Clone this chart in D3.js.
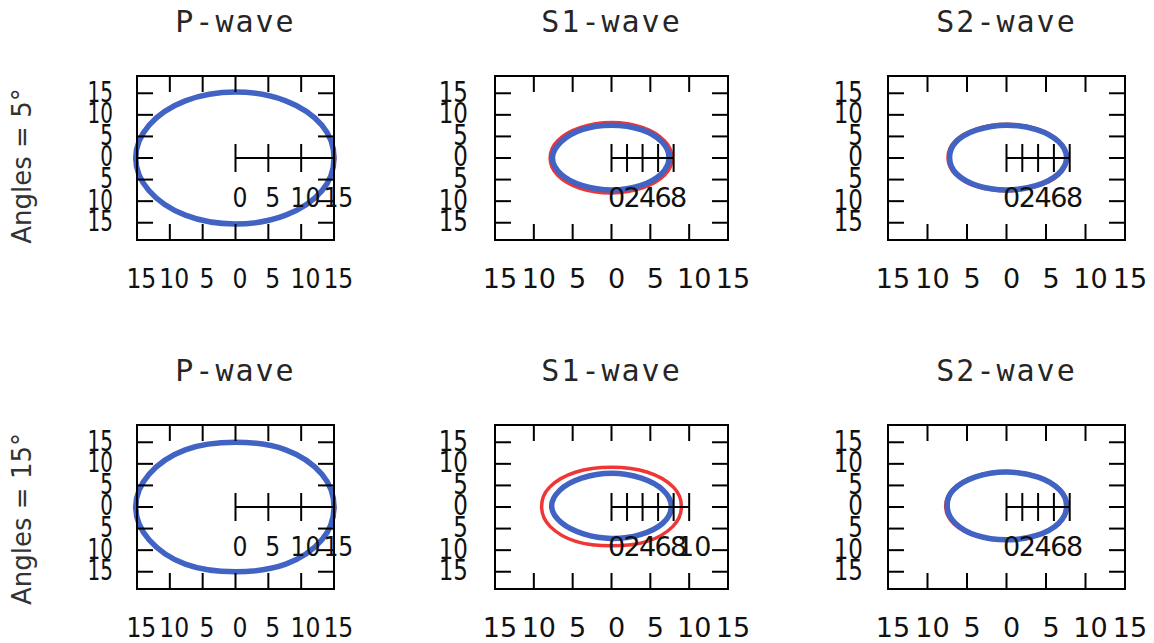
<!DOCTYPE html>
<html>
<head>
<meta charset="utf-8">
<script src="https://d3js.org/d3.v7.min.js"></script>
<style>
  body { margin: 0; background: #fff; }
  svg { display: block; }
</style>
</head>
<body>
<div id="chart"></div>
<script>
var width = 1154;
var height = 643;

// panel titles and row labels
var waves = ['P-wave', 'S1-wave', 'S2-wave'];
var rowLabels = ['Angles = 5°', 'Angles = 15°'];

// box axis ticks (labels show absolute values)
var axisTicks = [-15, -10, -5, 0, 5, 10, 15];

// sample angles (degrees) for the velocity curves
var theta = [0, 30, 60, 90, 120, 150, 180, 210, 240, 270, 300, 330];

// radii, red = first curve, blue = second curve
var red5P   = [15.1, 15.2, 15.3, 15.3, 15.3, 15.2, 15.1, 15.2, 15.3, 15.3, 15.3, 15.2];
var blue5P  = [15.0, 15.2, 15.3, 15.3, 15.3, 15.2, 15.2, 15.2, 15.3, 15.3, 15.3, 15.2];
var red5S1  = [7.8, 7.9, 8.1, 8.2, 8.1, 8.0, 7.9, 8.0, 8.1, 8.1, 8.0, 7.9];
var blue5S1 = [7.4, 7.5, 7.6, 7.6, 7.6, 7.5, 7.6, 7.5, 7.4, 7.4, 7.4, 7.4];
var red5S2  = [7.7, 7.7, 7.8, 7.8, 7.7, 7.6, 7.4, 7.5, 7.6, 7.6, 7.6, 7.7];
var blue5S2 = [7.6, 7.6, 7.6, 7.6, 7.5, 7.4, 7.2, 7.3, 7.4, 7.4, 7.4, 7.5];

var red15P   = [15.1, 15.2, 15.3, 15.0, 15.3, 15.2, 15.1, 15.2, 15.3, 15.0, 15.3, 15.2];
var blue15P  = [15.0, 15.2, 15.3, 15.0, 15.3, 15.2, 15.2, 15.2, 15.3, 15.0, 15.3, 15.2];
var red15S1  = [9.0, 9.2, 9.3, 9.2, 9.3, 9.2, 9.0, 9.1, 9.2, 9.0, 9.2, 9.1];
var blue15S1 = [7.7, 7.7, 7.7, 7.8, 7.7, 7.7, 7.7, 7.4, 7.2, 7.3, 7.4, 7.6];
var red15S2  = [7.7, 7.9, 8.1, 8.2, 8.1, 7.9, 7.7, 7.7, 7.7, 7.7, 7.7, 7.7];
var blue15S2 = [7.6, 7.8, 8.0, 8.1, 8.0, 7.8, 7.5, 7.5, 7.6, 7.6, 7.6, 7.6];

// radial axis ticks
var pTicks = [0, 5, 10, 15];
var sTicks = [0, 2, 4, 6, 8];
var s1Ticks15 = [0, 2, 4, 6, 8, 10];

var panels = [
	{row: 0, col: 0, red: red5P,   blue: blue5P,   rTicks: pTicks},
	{row: 0, col: 1, red: red5S1,  blue: blue5S1,  rTicks: sTicks},
	{row: 0, col: 2, red: red5S2,  blue: blue5S2,  rTicks: sTicks},
	{row: 1, col: 0, red: red15P,  blue: blue15P,  rTicks: pTicks},
	{row: 1, col: 1, red: red15S1, blue: blue15S1, rTicks: s1Ticks15},
	{row: 1, col: 2, red: red15S2, blue: blue15S2, rTicks: sTicks}
];

// layout
var colX = [137, 495, 888];
var colW = [197, 233, 237];
var colTextScale = [0.87, 1, 1];
var colLabelGap = [24, 27, 25];
var rowY = [76, 425];
var boxH = 164;

var svg = d3.select('#chart').append('svg')
	.attr('width', width)
	.attr('height', height);

var labelFont = 'DejaVu Sans, sans-serif';

panels.forEach(function(p){
	var x0 = colX[p.col], y0 = rowY[p.row], w = colW[p.col];
	var sx = colTextScale[p.col];

	var xScale = d3.scaleLinear().domain([-15, 15]).range([x0, x0 + w]);
	var yScale = d3.scaleLinear().domain([-19, 19]).range([y0 + boxH, y0]);

	var g = svg.append('g');

	// title
	g.append('text')
		.attr('x', xScale(0))
		.attr('y', y0 - 44)
		.attr('text-anchor', 'middle')
		.style('font-family', 'DejaVu Sans Mono, monospace')
		.style('font-size', '30px')
		.style('letter-spacing', '2px')
		.style('fill', '#262626')
		.text(waves[p.col]);

	// curves
	var line = d3.line()
		.x(function(d){ return xScale(d.r * Math.cos(d.a * Math.PI / 180)); })
		.y(function(d){ return yScale(d.r * Math.sin(d.a * Math.PI / 180)); })
		.curve(d3.curveCardinalClosed);

	var toPts = function(arr){
		return arr.map(function(r, i){ return {a: theta[i], r: r}; });
	};

	g.append('path')
		.attr('d', line(toPts(p.red)))
		.attr('fill', 'none')
		.attr('stroke', '#f03535')
		.attr('stroke-width', 3.5);

	g.append('path')
		.attr('d', line(toPts(p.blue)))
		.attr('fill', 'none')
		.attr('stroke', '#4163c4')
		.attr('stroke-width', 5.5);

	// box
	g.append('rect')
		.attr('x', x0).attr('y', y0)
		.attr('width', w).attr('height', boxH)
		.attr('fill', 'none')
		.attr('stroke', '#000')
		.attr('stroke-width', 2);

	// inward ticks on all four sides
	var tl = 16;
	axisTicks.forEach(function(t){
		var tx = xScale(t), ty = yScale(t);
		g.append('line').attr('x1', tx).attr('x2', tx).attr('y1', y0).attr('y2', y0 + tl)
			.attr('stroke', '#000').attr('stroke-width', 2);
		g.append('line').attr('x1', tx).attr('x2', tx).attr('y1', y0 + boxH).attr('y2', y0 + boxH - tl)
			.attr('stroke', '#000').attr('stroke-width', 2);
		g.append('line').attr('x1', x0).attr('x2', x0 + tl).attr('y1', ty).attr('y2', ty)
			.attr('stroke', '#000').attr('stroke-width', 2);
		g.append('line').attr('x1', x0 + w).attr('x2', x0 + w - tl).attr('y1', ty).attr('y2', ty)
			.attr('stroke', '#000').attr('stroke-width', 2);
	});

	// x tick labels
	g.selectAll('.xl')
		.data(axisTicks)
		.enter().append('text')
		.attr('transform', function(d){
			return 'translate(' + (xScale(d) + 5 * sx) + ',' + (y0 + boxH + 48) + ') scale(' + sx + ',1)';
		})
		.attr('text-anchor', 'middle')
		.style('font-family', labelFont)
		.style('font-size', '27px')
		.style('fill', '#111')
		.text(function(d){ return Math.abs(d); });

	// y tick labels: upright, right aligned, tall and crowded on top of each other
	g.selectAll('.yl')
		.data(axisTicks)
		.enter().append('text')
		.attr('transform', function(d){
			return 'translate(' + (x0 - colLabelGap[p.col]) + ',' + (yScale(d) - 2) + ') scale(' + (sx * 0.92) + ',1.15)';
		})
		.attr('text-anchor', 'end')
		.attr('dy', '0.36em')
		.style('font-family', labelFont)
		.style('font-size', '25px')
		.style('fill', '#111')
		.text(function(d){ return Math.abs(d); });

	// radial axis from the origin to the right
	var cy = yScale(0);
	var rMax = d3.max(p.rTicks);
	g.append('line')
		.attr('x1', xScale(0)).attr('x2', xScale(rMax))
		.attr('y1', cy).attr('y2', cy)
		.attr('stroke', '#000').attr('stroke-width', 2);
	p.rTicks.forEach(function(t){
		g.append('line')
			.attr('x1', xScale(t)).attr('x2', xScale(t))
			.attr('y1', cy - 14).attr('y2', cy + 14)
			.attr('stroke', '#000').attr('stroke-width', 2);
	});
	g.selectAll('.rl')
		.data(p.rTicks)
		.enter().append('text')
		.attr('transform', function(d){
			return 'translate(' + (xScale(d) + 5 * sx) + ',' + (cy + 49) + ') scale(' + sx + ',1)';
		})
		.attr('text-anchor', 'middle')
		.style('font-family', labelFont)
		.style('font-size', '27px')
		.style('fill', '#111')
		.text(function(d){ return d; });
});

// row labels
rowLabels.forEach(function(lab, r){
	svg.append('text')
		.attr('transform', 'translate(31,' + (166 + 353 * r) + ') rotate(-90)')
		.attr('text-anchor', 'middle')
		.style('font-family', labelFont)
		.style('font-size', '26px')
		.style('fill', '#333')
		.text(lab);
});
</script>
</body>
</html>
